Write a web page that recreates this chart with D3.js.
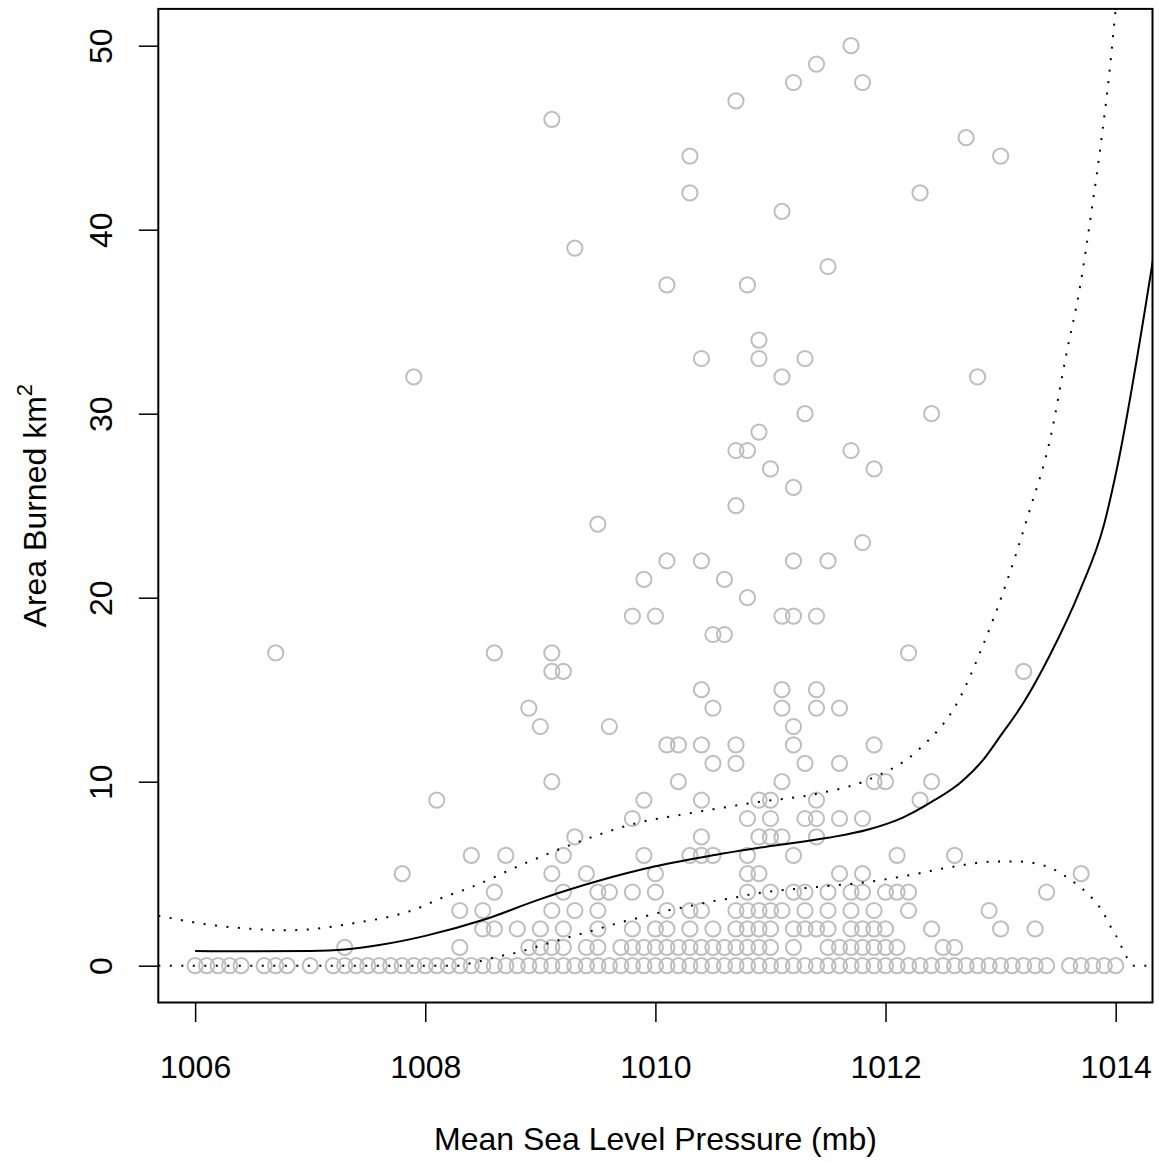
<!DOCTYPE html>
<html><head><meta charset="utf-8">
<script src="https://cdn.jsdelivr.net/npm/d3@7"></script>
<style>body{margin:0;background:#fff}svg text{font-family:"Liberation Sans",Arial,Helvetica,sans-serif;fill:#000}</style>
</head><body><svg id="c" width="1159" height="1163"></svg>
<script>
// ---- data ----
const areaLevels = [0,1,2,3,4,5,6,7,8,9,10,11,12,13,14,15,16,17,18,19,20,21,22,23,24,25,26,27,28,29,30,32,33,34,37,38,39,41,42,44,45,46,47,48,49,50];
const pressureAtLevel = [
 [1006.0,1006.1,1006.2,1006.3,1006.4,1006.6,1006.7,1006.8,1007.0,1007.2,1007.3,1007.4,1007.5,1007.6,1007.7,1007.8,1007.9,1008.0,1008.1,1008.2,1008.3,1008.4,1008.5,1008.6,1008.7,1008.8,1008.9,1009.0,1009.1,1009.2,1009.3,1009.4,1009.5,1009.6,1009.7,1009.8,1009.9,1010.0,1010.1,1010.2,1010.3,1010.4,1010.5,1010.6,1010.7,1010.8,1010.9,1011.0,1011.1,1011.2,1011.3,1011.4,1011.5,1011.6,1011.7,1011.8,1011.9,1012.0,1012.1,1012.2,1012.3,1012.4,1012.5,1012.6,1012.7,1012.8,1012.9,1013.0,1013.1,1013.2,1013.3,1013.4,1013.6,1013.7,1013.8,1013.9,1014.0],
 [1007.3,1008.3,1008.9,1009.0,1009.1,1009.2,1009.4,1009.5,1009.7,1009.8,1009.9,1010.0,1010.1,1010.2,1010.3,1010.4,1010.5,1010.6,1010.7,1010.8,1010.9,1011.0,1011.2,1011.5,1011.6,1011.7,1011.8,1011.9,1012.0,1012.1,1012.5,1012.6],
 [1008.5,1008.6,1008.8,1009.0,1009.2,1009.5,1009.8,1010.0,1010.1,1010.3,1010.5,1010.7,1010.8,1010.9,1011.0,1011.2,1011.3,1011.4,1011.5,1011.7,1011.8,1011.9,1012.0,1012.4,1013.0,1013.3],
 [1008.3,1008.5,1009.1,1009.3,1009.5,1010.1,1010.3,1010.4,1010.7,1010.8,1010.9,1011.0,1011.1,1011.3,1011.5,1011.7,1011.9,1012.2,1012.9],
 [1008.6,1009.2,1009.5,1009.6,1009.8,1010.0,1010.8,1011.0,1011.2,1011.3,1011.5,1011.7,1011.8,1012.0,1012.1,1012.2,1013.4],
 [1007.8,1009.1,1009.4,1010.0,1010.8,1010.9,1011.6,1011.8,1013.7],
 [1008.4,1008.7,1009.2,1009.9,1010.3,1010.4,1010.5,1010.8,1011.2,1012.1,1012.6],
 [1009.3,1010.4,1010.9,1011.0,1011.1,1011.4],
 [1009.8,1010.8,1011.0,1011.3,1011.4,1011.6,1011.8],
 [1008.1,1009.9,1010.4,1010.9,1011.0,1011.4,1012.3],
 [1009.1,1010.2,1011.1,1011.9,1012.0,1012.4],
 [1010.5,1010.7,1011.3,1011.6],
 [1010.1,1010.2,1010.4,1010.7,1011.2,1011.9],
 [1009.0,1009.6,1011.2],
 [1008.9,1010.5,1011.1,1011.4,1011.6],
 [1010.4,1011.1,1011.4],
 [1009.1,1009.2,1013.2],
 [1006.7,1008.6,1009.1,1012.2],
 [1010.5,1010.6],
 [1009.8,1010.0,1011.1,1011.2,1011.4],
 [1010.8],
 [1009.9,1010.6],
 [1010.1,1010.4,1011.2,1011.5],
 [1011.8],
 [1009.5],
 [1010.7],
 [1011.2],
 [1011.0,1011.9],
 [1010.7,1010.8,1011.7],
 [1010.9],
 [1011.3,1012.4],
 [1007.9,1011.1,1012.8],
 [1010.4,1010.9,1011.3],
 [1010.9],
 [1010.1,1010.8],
 [1011.5],
 [1009.3],
 [1011.1],
 [1010.3,1012.3],
 [1010.3,1013.0],
 [1012.7],
 [1009.1],
 [1010.7],
 [1011.2,1011.8],
 [1011.4],
 [1011.7]
];
const fitP = [1006.0,1006.5,1007.0,1007.3,1007.6,1008.0,1008.5,1009.0,1009.5,1010.0,1010.5,1011.0,1011.5,1011.85,1012.15,1012.4,1012.66,1012.85,1013.0,1013.2,1013.43,1013.69,1013.9,1014.0,1014.34];
const fitA = [0.80,0.78,0.80,0.88,1.12,1.62,2.48,3.62,4.6,5.4,6.0,6.5,6.95,7.4,8.05,8.9,10.0,11.2,12.5,14.3,16.9,20.4,24.0,26.7,39.0];
const upperP = [1005.68,1006.18,1006.5,1006.76,1007.0,1007.34,1007.92,1008.15,1008.36,1008.88,1009.32,1009.87,1010.22,1010.9,1011.4,1011.87,1012.28,1012.65,1012.82,1013.05,1013.25,1013.43,1013.57,1013.69,1013.79,1013.88,1013.95,1014.0,1014.1];
const upperA = [2.72,2.18,2.0,1.92,1.98,2.27,3.08,3.7,4.17,5.6,6.7,7.8,8.2,8.9,9.34,10.16,11.7,14.6,17.0,20.8,24.7,28.6,33.2,36.9,41.0,45.1,48.8,52.0,58.0];
const lowerP = [1005.68,1008.3,1008.42,1008.52,1008.6,1008.8,1008.98,1009.17,1009.45,1009.72,1009.91,1010.1,1010.29,1010.48,1010.67,1010.85,1011.44,1011.82,1012.19,1012.57,1012.95,1013.15,1013.44,1013.6,1013.76,1013.88,1013.97,1014.02,1014.06,1014.1,1014.16,1014.34];
const lowerA = [0,0,0.18,0.31,0.45,0.72,1.05,1.41,1.9,2.39,2.68,2.99,3.23,3.48,3.68,3.9,4.3,4.53,4.9,5.36,5.66,5.66,5.3,4.7,3.9,3.0,1.96,1.45,0.9,0.42,0,0];
const xTicks = [1006,1008,1010,1012,1014];
const yTicks = [0,10,20,30,40,50];

// ---- layout ----
const L = 158.3, R = 1152.5, T = 8.9, B = 1002.5;
const svg = d3.select("#c");
const x = d3.scaleLinear().domain([1005.68,1014.32]).range([L,R]);
const y = d3.scaleLinear().domain([-2,52]).range([B,T]);

svg.append("defs").append("clipPath").attr("id","clip")
  .append("rect").attr("x",L).attr("y",T).attr("width",R-L).attr("height",B-T);

// points
const pts = [];
areaLevels.forEach((a,i)=>pressureAtLevel[i].forEach(p=>pts.push({p:p,a:a})));
svg.append("g").selectAll("circle").data(pts).join("circle")
  .attr("cx",d=>x(d.p)).attr("cy",d=>y(d.a)).attr("r",7.6)
  .attr("fill","none").attr("stroke","#bebebe").attr("stroke-width",2);

// curves
const line = d3.line().x(d=>x(d[0])).y(d=>y(d[1])).curve(d3.curveMonotoneX);
const g = svg.append("g").attr("clip-path","url(#clip)");
g.append("path").attr("d",line(fitP.map((p,i)=>[p,fitA[i]])))
  .attr("fill","none").attr("stroke","#000").attr("stroke-width",2);
[[upperP,upperA],[lowerP,lowerA]].forEach(([P,A])=>{
  g.append("path").attr("d",line(P.map((p,i)=>[p,A[i]])))
   .attr("fill","none").attr("stroke","#000").attr("stroke-width",2)
   .attr("stroke-dasharray","2,9.5");
});

// box
svg.append("rect").attr("x",L).attr("y",T).attr("width",R-L).attr("height",B-T)
  .attr("fill","none").attr("stroke","#000").attr("stroke-width",2);

// x axis
const xa = svg.append("g").attr("transform",`translate(0,${B})`)
  .call(d3.axisBottom(x).tickValues(xTicks).tickSize(19.5).tickPadding(0).tickFormat(d3.format("d")));
xa.select(".domain").remove();
xa.selectAll(".tick line").attr("stroke","#000").attr("stroke-width",1.5);
xa.selectAll(".tick text").attr("font-size",32).attr("y",0).attr("dy",null)
  .attr("transform","translate(0,75)").attr("font-family",null);

// y axis
const ya = svg.append("g").attr("transform",`translate(${L},0)`)
  .call(d3.axisLeft(y).tickValues(yTicks).tickSize(19.5).tickFormat(d3.format("d")));
ya.select(".domain").remove();
ya.selectAll(".tick line").attr("stroke","#000").attr("stroke-width",1.5);
ya.selectAll(".tick text").attr("font-size",32).attr("x",0).attr("dy",null)
  .attr("text-anchor","middle").attr("font-family",null)
  .attr("transform","translate(-46,0) rotate(-90)");
svg.selectAll(".tick text").attr("fill","#000");

// titles
svg.append("text").attr("x",(L+R)/2).attr("y",1150).attr("text-anchor","middle")
  .attr("font-size",32).text("Mean Sea Level Pressure (mb)");
const yt = svg.append("text").attr("transform",`translate(46,${(T+B)/2}) rotate(-90)`)
  .attr("text-anchor","middle").attr("font-size",32);
yt.append("tspan").text("Area Burned km");
yt.append("tspan").attr("dy",-14).attr("font-size",22).text("2");
</script></body></html>
